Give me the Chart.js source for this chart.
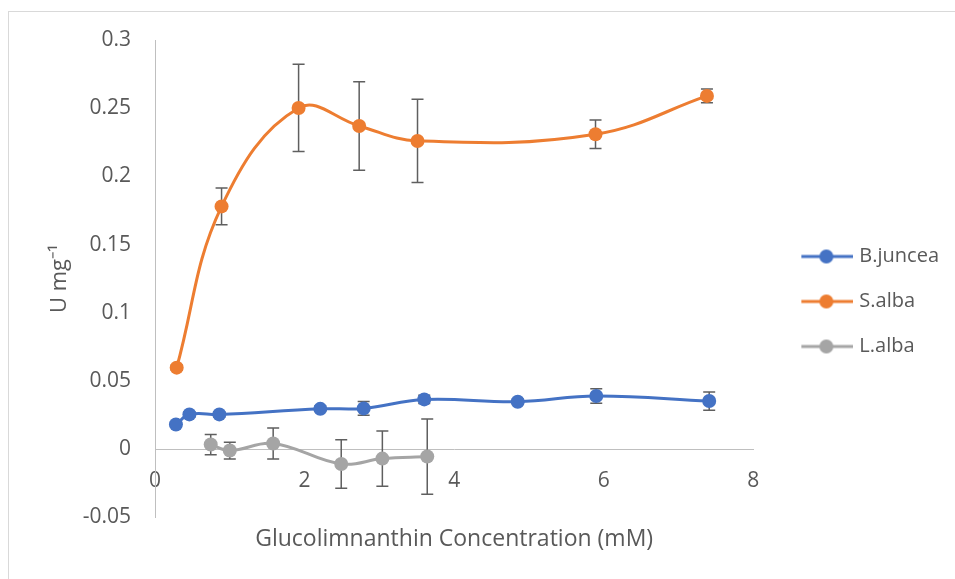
<!DOCTYPE html>
<html>
<head>
<meta charset="utf-8">
<script src="https://cdn.jsdelivr.net/npm/chart.js@4"></script>
<style>
  html, body { margin: 0; padding: 0; background: #ffffff; }
  #frame {
    position: absolute; left: 8px; top: 11px; right: 0; bottom: 0;
    border-top: 1px solid #d9d9d9; border-left: 1px solid #d9d9d9;
  }
  #wrap { position: absolute; left: 0; top: 0; width: 955px; height: 579px; }
</style>
</head>
<body>
<div id="frame"></div>
<div id="wrap"><canvas id="myChart"></canvas></div>
<script>
// ** data (concentration in mM, activity in U mg-1, error = +/-)

let seriesNames = ['B.juncea', 'S.alba', 'L.alba'];
let seriesColors = ['#4472c4', '#ed7d31', '#a5a5a5'];

let bJunceaX = [0.28, 0.46, 0.86, 2.21, 2.79, 3.60, 4.85, 5.90, 7.41];
let bJunceaY = [0.0181, 0.0255, 0.0255, 0.0296, 0.0299, 0.0365, 0.0348, 0.0390, 0.0353];
let bJunceaErr = [0.002, 0.002, 0.002, 0.002, 0.005, 0.003, 0.002, 0.0054, 0.0067];

let sAlbaX = [0.29, 0.89, 1.92, 2.73, 3.51, 5.89, 7.38];
let sAlbaY = [0.0598, 0.178, 0.2502, 0.237, 0.226, 0.2309, 0.259];
let sAlbaErr = [0.002, 0.0135, 0.032, 0.0324, 0.0305, 0.0105, 0.005];

let lAlbaX = [0.745, 1.0, 1.58, 2.49, 3.04, 3.64];
let lAlbaY = [0.0034, -0.001, 0.0042, -0.0108, -0.0069, -0.0054];
let lAlbaErr = [0.0074, 0.0061, 0.0114, 0.0178, 0.0202, 0.0276];

let xTicks = [0, 2, 4, 6, 8];
let yMin = -0.05;
let yMax = 0.3;
let yStep = 0.05;

let textColor = '#595959';
let axisColor = '#bfbfbf';
let fontFamily = "'Open Sans', sans-serif";

// helper: zip x and y arrays into points
function toPoints(xs, ys){
  let pts = [];
  for (let i = 0; i < xs.length; i++){
    pts.push({x: xs[i], y: ys[i]});
  }
  return pts;
}

// little line + dot icons for the legend
function legendIcon(color){
  let c = document.createElement('canvas');
  c.width = 79;
  c.height = 16;
  let ctx = c.getContext('2d');
  ctx.strokeStyle = color;
  ctx.lineWidth = 3;
  ctx.beginPath();
  ctx.moveTo(27, 8);
  ctx.lineTo(79, 8);
  ctx.stroke();
  ctx.fillStyle = color;
  ctx.beginPath();
  ctx.arc(52, 8, 7, 0, Math.PI * 2);
  ctx.fill();
  return c;
}
let legendIcons = seriesColors.map(legendIcon);

// vertical error bars with caps, drawn under the series
let errorBars = {
  id: 'errorBars',
  beforeDatasetsDraw(chart){
    let ctx = chart.ctx;
    let xScale = chart.scales.x;
    let yScale = chart.scales.y;
    ctx.save();
    ctx.strokeStyle = '#5f5f5f';
    ctx.lineWidth = 1.5;
    chart.data.datasets.forEach(ds => {
      ds.data.forEach((p, i) => {
        let e = ds.errors[i];
        let px = xScale.getPixelForValue(p.x);
        let top = yScale.getPixelForValue(p.y + e);
        let bottom = yScale.getPixelForValue(p.y - e);
        ctx.beginPath();
        ctx.moveTo(px, top);
        ctx.lineTo(px, bottom);
        ctx.moveTo(px - 6, top);
        ctx.lineTo(px + 6, top);
        ctx.moveTo(px - 6, bottom);
        ctx.lineTo(px + 6, bottom);
        ctx.stroke();
      });
    });
    ctx.restore();
  }
};

function makeDataset(i, xs, ys, errs){
  return {
    label: seriesNames[i],
    data: toPoints(xs, ys),
    errors: errs,
    showLine: true,
    borderColor: seriesColors[i],
    backgroundColor: seriesColors[i],
    borderWidth: 3,
    pointRadius: 7,
    pointHoverRadius: 7,
    pointBorderWidth: 0,
    tension: 0.4
  };
}

let chart = new Chart(document.getElementById('myChart'), {
  type: 'scatter',
  data: {
    datasets: [
      makeDataset(0, bJunceaX, bJunceaY, bJunceaErr),
      makeDataset(1, sAlbaX, sAlbaY, sAlbaErr),
      makeDataset(2, lAlbaX, lAlbaY, lAlbaErr)
    ]
  },
  options: {
    responsive: true,
    maintainAspectRatio: false,
    animation: false,
    layout: {
      padding: {left: 44, top: 40, right: 6, bottom: 16}
    },
    scales: {
      x: {
        type: 'linear',
        position: {y: 0},
        min: 0,
        max: 8,
        afterBuildTicks: scale => { scale.ticks = xTicks.map(v => ({value: v})); },
        grid: {display: false, drawTicks: false},
        border: {display: true, color: axisColor, width: 1},
        ticks: {
          color: textColor,
          padding: 19,
          font: {family: fontFamily, size: 21}
        }
      },
      y: {
        min: yMin,
        max: yMax,
        afterFit: scale => { scale.width = 111; },
        grid: {display: false, drawTicks: false},
        border: {display: true, color: axisColor, width: 1},
        ticks: {
          stepSize: yStep,
          color: textColor,
          padding: 24,
          font: {family: fontFamily, size: 21},
          callback: v => String(+v.toFixed(2))
        },
        title: {
          display: true,
          text: 'U mg\u207B\u00B9',
          color: textColor,
          padding: {top: 3, bottom: 4},
          font: {family: fontFamily, size: 22}
        }
      }
    },
    plugins: {
      tooltip: {enabled: false},
      title: {
        display: true,
        position: 'bottom',
        fullSize: false,
        text: 'Glucolimnanthin Concentration (mM)',
        color: textColor,
        padding: {top: 8, bottom: 10},
        font: {family: fontFamily, size: 23, weight: 'normal'}
      },
      legend: {
        position: 'right',
        labels: {
          usePointStyle: true,
          pointStyleWidth: 71,
          padding: 25,
          color: textColor,
          font: {family: fontFamily, size: 20},
          generateLabels: chart => {
            let items = Chart.defaults.plugins.legend.labels.generateLabels(chart);
            items.forEach((item, i) => { item.pointStyle = legendIcons[i]; });
            return items;
          }
        }
      }
    }
  },
  plugins: [errorBars]
});
</script>
</body>
</html>
